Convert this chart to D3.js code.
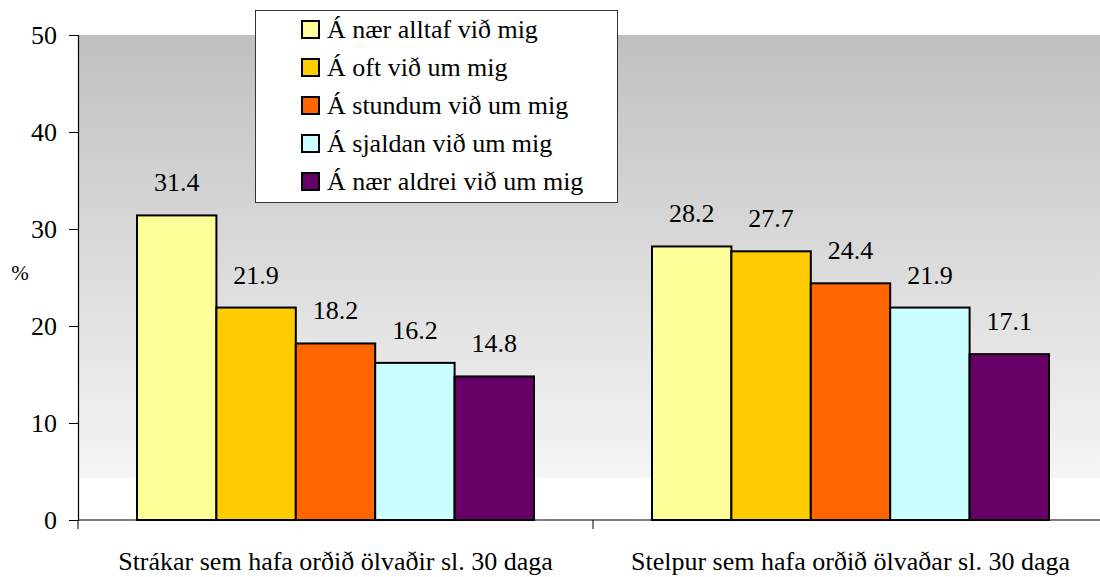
<!DOCTYPE html>
<html>
<head>
<meta charset="utf-8">
<script src="https://cdn.jsdelivr.net/npm/d3@7"></script>
</head>
<body style="margin:0">
<svg id="chart" width="1100" height="577"></svg>
<script>
const groups = ['Strákar sem hafa orðið ölvaðir sl. 30 daga', 'Stelpur sem hafa orðið ölvaðar sl. 30 daga'];
const seriesNames = ['Á nær alltaf við mig', 'Á oft við um mig', 'Á stundum við um mig', 'Á sjaldan við um mig', 'Á nær aldrei við um mig'];
const seriesColors = ['#FFFF99', '#FFCC00', '#FF6600', '#CCFFFF', '#660066'];
// values[series][group]
const values = [
  [31.4, 28.2],
  [21.9, 27.7],
  [18.2, 24.4],
  [16.2, 21.9],
  [14.8, 17.1],
];
const yTicks = [0, 10, 20, 30, 40, 50];

const margin = { top: 35, left: 78, bottom: 57 };
const svg = d3.select('#chart');
const W = 1100, H = 577;
const plotBottom = H - margin.bottom;
const FS = 26;

const label = (parent, x, yy, str, anchor, fs) => {
  return parent.append('text')
    .attr('x', x).attr('y', yy)
    .style('font-family', '"Liberation Serif"')
    .attr('font-size', fs || FS)
    .attr('text-anchor', anchor || 'start')
    .text(str);
};

const x0 = d3.scaleBand().domain(groups).range([margin.left, margin.left + 2 * 515]);
const x1 = d3.scaleBand().domain(seriesNames).range([59, 515 - 59]);
const y = d3.scaleLinear().domain([0, 50]).range([plotBottom, margin.top]);

// background gradient
const defs = svg.append('defs');
const grad = defs.append('linearGradient').attr('id', 'bg')
  .attr('x1', 0).attr('y1', 0).attr('x2', 0).attr('y2', 1);
grad.append('stop').attr('offset', 0).attr('stop-color', '#c0c0c0');
grad.append('stop').attr('offset', 0.913).attr('stop-color', '#f5f5f5');
grad.append('stop').attr('offset', 0.913).attr('stop-color', '#ffffff');
grad.append('stop').attr('offset', 1).attr('stop-color', '#ffffff');

svg.append('rect')
  .attr('x', margin.left).attr('y', y(50))
  .attr('width', W - margin.left).attr('height', y(0) - y(50))
  .attr('fill', 'url(#bg)');

// bars
seriesNames.forEach((s, si) => {
  groups.forEach((grp, gi) => {
    const v = values[si][gi];
    const bx = x0(grp) + x1(s);
    svg.append('rect')
      .attr('x', bx).attr('y', y(v))
      .attr('width', x1.bandwidth()).attr('height', y(0) - y(v))
      .attr('fill', seriesColors[si])
      .attr('stroke', '#000').attr('stroke-width', 2);
    label(svg, bx + x1.bandwidth() / 2, y(v) - 24, v.toFixed(1), 'middle');
  });
});

// y axis
const yAxis = svg.append('g')
  .attr('transform', `translate(${margin.left},0)`)
  .call(d3.axisLeft(y).tickValues(yTicks).tickSize(9).tickFormat(''));
yAxis.select('.domain').attr('stroke', '#000').attr('stroke-width', 1.2);
yAxis.selectAll('.tick line').attr('stroke', '#000');
yTicks.forEach(t => label(svg, 57, y(t) + 9, String(t), 'end'));

// x axis
svg.append('line')
  .attr('x1', margin.left).attr('x2', W)
  .attr('y1', plotBottom).attr('y2', plotBottom)
  .attr('stroke', '#000').attr('stroke-width', 1.2);
[margin.left, x0(groups[1])].forEach(tx => {
  svg.append('line')
    .attr('x1', tx).attr('x2', tx)
    .attr('y1', plotBottom).attr('y2', plotBottom + 9)
    .attr('stroke', '#000');
});
groups.forEach(grp => {
  label(svg, x0(grp) + x0.bandwidth() / 2, plotBottom + 50, grp, 'middle');
});

// % label
label(svg, 20, 280, '%', 'middle', 21);

// legend
svg.append('rect')
  .attr('x', 255.5).attr('y', 10.5).attr('width', 362).attr('height', 192)
  .attr('fill', '#fff').attr('stroke', '#333').attr('stroke-width', 1);
seriesNames.forEach((s, i) => {
  const ry = 21 + i * 38;
  svg.append('rect')
    .attr('x', 302).attr('y', ry).attr('width', 17).attr('height', 17)
    .attr('fill', seriesColors[i]).attr('stroke', '#000').attr('stroke-width', 2);
  label(svg, 327, ry + 17, s, 'start');
});
</script>
</body>
</html>
